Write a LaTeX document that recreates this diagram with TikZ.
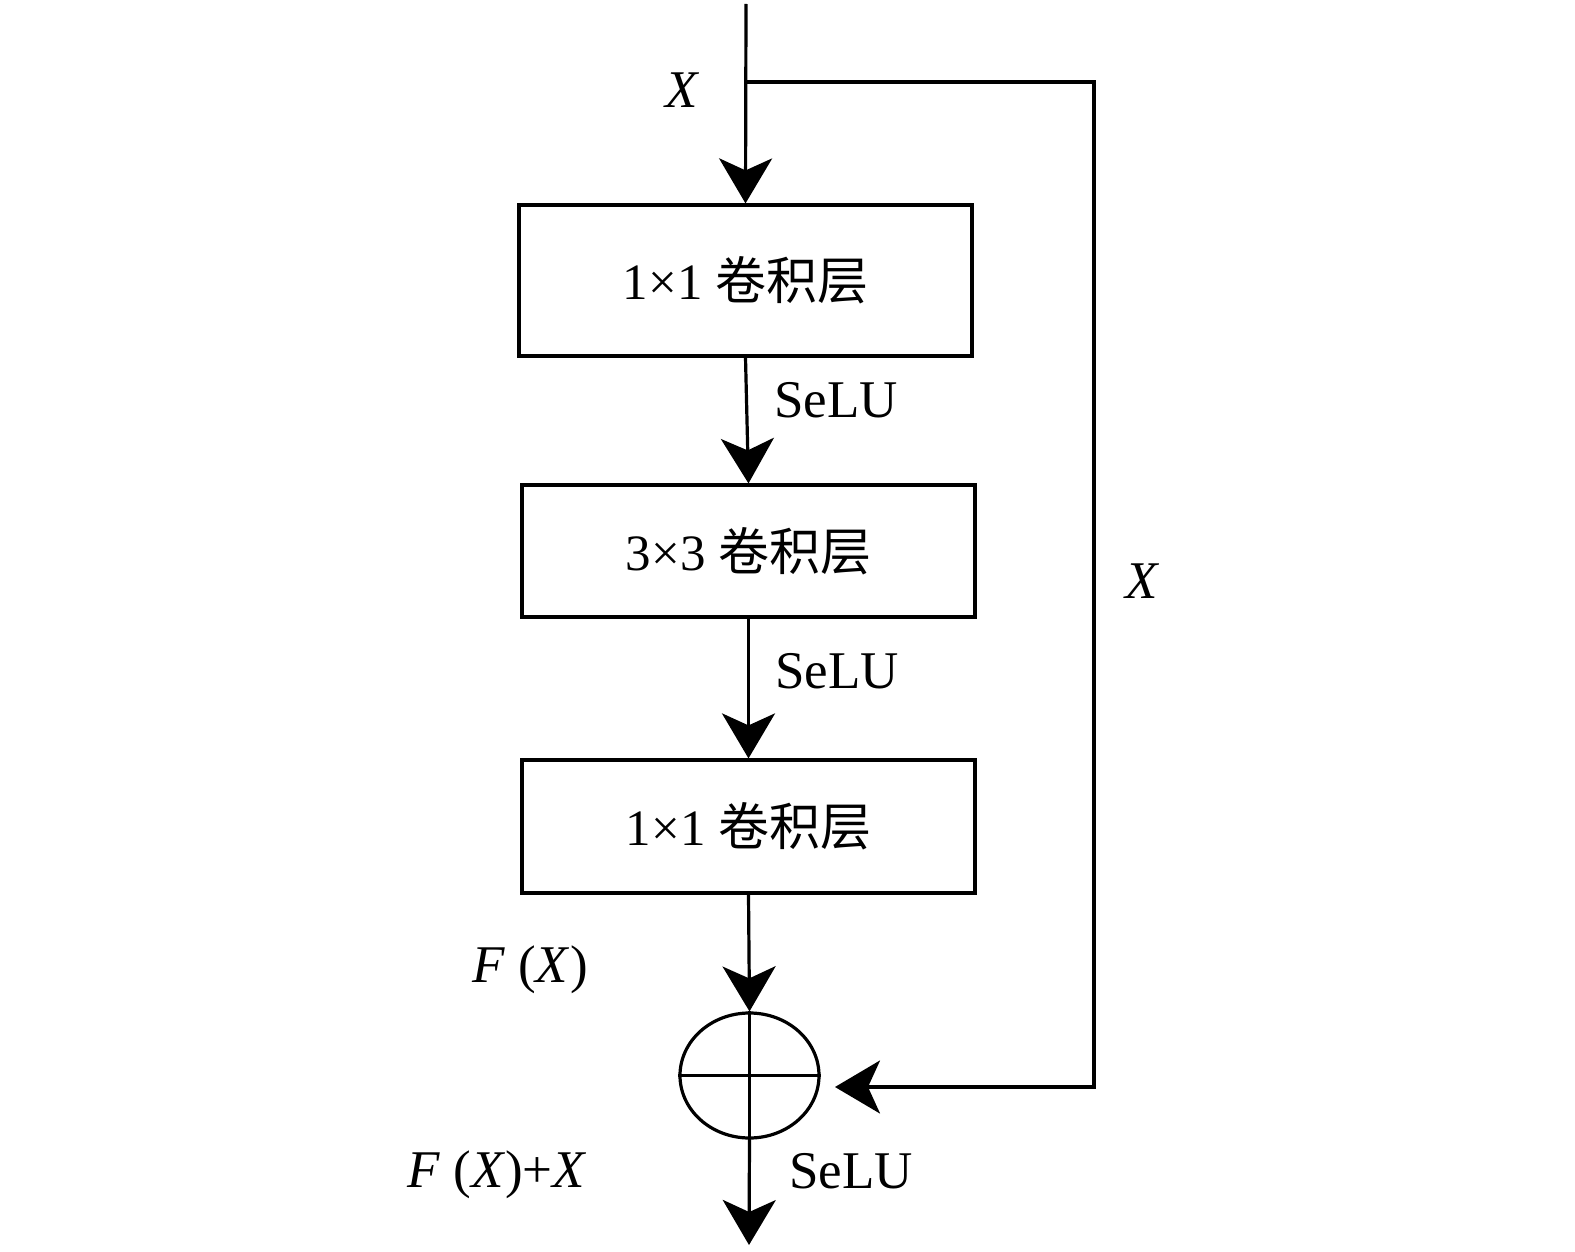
\documentclass[tikz,border=0pt]{standalone}
\usepackage{fontspec}
\setmainfont{Liberation Serif}
\newfontfamily\cjk{Noto Sans CJK SC}
\usetikzlibrary{arrows.meta,shapes.geometric}

\tikzset{
  layer/.style={draw,rectangle,minimum width=226.5pt,inner sep=0pt,font=\fontsize{25.5}{30}\selectfont},
  arr/.style={-{Stealth[length=22.5pt,width=26.5pt,inset=6pt]}},
  lbl/.style={inner sep=0pt,font=\fontsize{26.5}{32}\selectfont},
}

\begin{document}
\begin{tikzpicture}[x=0.5pt,y=-0.5pt,line width=1.6pt,line join=miter]
  \useasboundingbox (0,0) rectangle (1575,1252);
  \coordinate (In) at (746,4);
  \coordinate (Split) at (746,82);
  \coordinate (TR) at (1094,82);
  \coordinate (BR) at (1094,1087);
  \coordinate (Back) at (835,1087);
  \coordinate (Out) at (749,1245);
  \node[layer,minimum height=75.5pt] (C1) at (745.5,280.5) {1×1 {\cjk 卷积层}};
  \node[layer,minimum height=66pt] (C2) at (748.5,551) {3×3 {\cjk 卷积层}};
  \node[layer,minimum height=66.5pt] (C3) at (748.5,826.5) {1×1 {\cjk 卷积层}};
  \node[draw,ellipse,minimum width=69.5pt,minimum height=62.5pt,inner sep=0pt] (Sum) at (749.5,1075.5) {};
  \draw[arr] (In) -- (C1.north);
  \draw[arr] (C1.south) -- (C2.north);
  \draw[arr] (C2.south) -- (C3.north);
  \draw[arr] (C3.south) -- (Sum.north);
  \draw (Sum.north) -- (Sum.south);
  \draw (Sum.west) -- (Sum.east);
  \draw[arr] (Sum.south) -- (Out);
  \draw[arr] (Split) -- (TR) -- (BR) -- (Back);
  \node[lbl] (lx1) at (683,90) {\textit{X}};
  \node[lbl] (lx2) at (1143,581) {\textit{X}};
  \node[lbl] (ls1) at (836,400) {SeLU};
  \node[lbl] (ls2) at (837,671) {SeLU};
  \node[lbl] (ls3) at (851,1171) {SeLU};
  \node[lbl] (lf) at (530,970) {\textit{F} (\textit{X})};
  \node[lbl] (lfx) at (497,1175) {\textit{F} (\textit{X})+\textit{X}};
\end{tikzpicture}
\end{document}
